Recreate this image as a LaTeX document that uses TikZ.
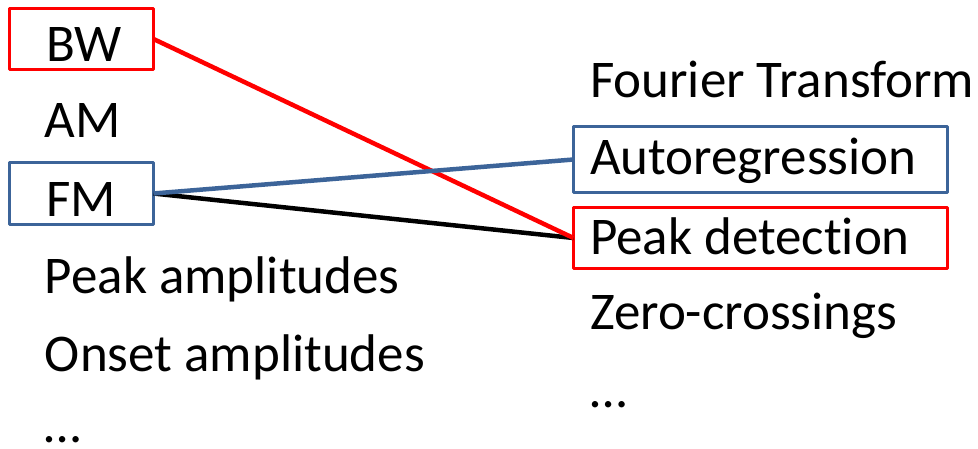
\documentclass[tikz,border=0pt]{standalone}
\usepackage{fontspec}
\setmainfont[RawFeature={-liga;-dlig}]{Carlito}
\definecolor{boxblue}{RGB}{60,100,153}
\definecolor{boxred}{RGB}{255,0,0}
\begin{document}
\begin{tikzpicture}[x=1pt,y=-1pt,
  lbl/.style={anchor=base west,inner sep=0pt,outer sep=0pt,font=\fontsize{53}{60}\selectfont},
  frame/.style={draw,line width=3.2pt,line join=round,rectangle,inner sep=0pt,outer sep=0pt,anchor=north west},
  link/.style={line width=4.5pt}]
\path[use as bounding box,fill=white] (0,0) rectangle (978,449);
% boxes
\node[frame,draw=boxred,minimum width=144pt,minimum height=61pt] (bwbox) at (9.5,8.5) {};
\node[frame,draw=boxblue,minimum width=144pt,minimum height=62pt] (fmbox) at (9.5,162.5) {};
\node[frame,draw=boxblue,minimum width=374pt,minimum height=66pt] (arbox) at (573.5,126.5) {};
\node[frame,draw=boxred,minimum width=374pt,minimum height=61pt] (pdbox) at (573.5,207.5) {};
% left column
\node[lbl] (bw) at (46,62) {BW};
\node[lbl] (am) at (45,138) {AM};
\node[lbl] (fm) at (46,217) {FM};
\node[lbl] (pa) at (45,294) {Peak amplitudes};
\node[lbl] (oa) at (45,371) {Onset amplitudes};
\node[lbl,text depth=0pt] (ld) at (45,442) {…};
% right column
\node[lbl] (ft) at (590,98) {Fourier Transform};
\node[lbl] (ar) at (590,175) {Autoregression};
\node[lbl] (pd) at (590,255) {Peak detection};
\node[lbl] (zc) at (590,330) {Zero-crossings};
\node[lbl] (rd) at (590,407) {…};
% connectors
\draw[link,black] (fmbox.east) -- (pdbox.west);
\draw[link,boxred] (bwbox.east) -- (pdbox.west);
\draw[link,boxblue] (fmbox.east) -- (arbox.west);
\end{tikzpicture}
\end{document}
